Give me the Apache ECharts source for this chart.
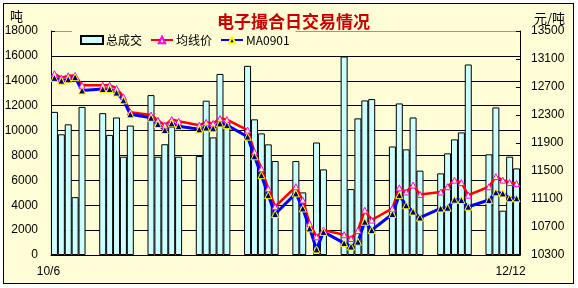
<!DOCTYPE html>
<html><head><meta charset="utf-8">
<script src="https://cdn.jsdelivr.net/npm/echarts@6/dist/echarts.min.js"></script>
<style>
html,body{margin:0;padding:0;background:#fff;}
#frame{position:absolute;left:3px;top:3px;width:569px;height:279px;border:1px solid #000;background:#FEFDD6;}
#c{position:absolute;left:0;top:0;width:578px;height:288px;}
</style></head>
<body>
<div id="frame"></div>
<div id="c"></div>
<script>
var dates = ['10/6','10/7','10/8','10/9','10/10','10/11','10/12','10/13','10/14','10/15','10/16','10/17','10/18','10/19',
'10/20','10/21','10/22','10/23','10/24','10/25','10/26','10/27','10/28','10/29','10/30','10/31','11/1','11/2',
'11/3','11/4','11/5','11/6','11/7','11/8','11/9','11/10','11/11','11/12','11/13','11/14','11/15','11/16',
'11/17','11/18','11/19','11/20','11/21','11/22','11/23','11/24','11/25','11/26','11/27','11/28','11/29','11/30',
'12/1','12/2','12/3','12/4','12/5','12/6','12/7','12/8','12/9','12/10','12/11','12/12'];

var volume = [11500,9700,10500,4650,11900,null,null,11400,9650,11050,7900,10400,null,null,
12850,7900,8900,10300,7900,null,null,7950,12400,9450,14550,10750,null,null,
15200,10900,9770,8890,7550,null,null,7550,5030,null,9040,6880,null,null,
15950,5300,10980,12420,12530,null,null,8720,12180,8490,11050,6780,null,null,
6560,8170,9290,9850,15310,null,null,8090,11860,3560,7900,6960];

var avgPrice = [12890,12830,12860,12865,12725,null,null,12725,12725,12680,12560,12340,null,null,
12300,12225,12155,12235,12210,null,null,12155,12195,12180,12250,12235,null,null,
12085,11775,11535,11250,10990,null,null,11275,11085,10750,10560,10655,null,null,
10590,10535,10650,10940,10800,null,null,10965,11260,11200,11300,11165,null,null,
11200,11275,11370,11335,11155,null,null,11275,11420,11370,11335,11320];

var ma0901 = [12830,12790,12810,12840,12650,null,null,12670,12670,12620,12510,12310,null,null,
12260,12170,12085,12180,12140,null,null,12095,12120,12110,12180,12155,null,null,
11990,11710,11440,11155,10885,null,null,11180,10965,10680,10380,10630,null,null,
10470,10420,10490,10775,10655,null,null,10885,11155,11010,10920,10835,null,null,
10965,10975,11090,11085,10990,null,null,11085,11195,11180,11110,11110];

var seriesNames = ['总成交','均线价','MA0901'];
var titleText = '电子撮合日交易情况';
var leftUnit = '吨';
var rightUnit = '元/吨';

var FONT = '"Liberation Sans", Arial, sans-serif';
var CJK = '"Noto Sans CJK SC", sans-serif';
var chart = echarts.init(document.getElementById('c'), null, {renderer:'canvas'});
var splitColors = ['#000','#000','#000','#000','#000','#000','#000','#000','#000','#999'];
function plain(v){ return String(v); }

chart.setOption({
  backgroundColor: 'transparent',
  animation: false,
  title: [
    {text: titleText, left: 212, top: 8, textStyle:{fontFamily: CJK, fontSize: 17, fontWeight:'bold', color:'#CC0000'}},
    {text: leftUnit, left: 5, top: 5, textStyle:{fontFamily: CJK, fontSize: 13, fontWeight:'normal', color:'#000'}},
    {text: rightUnit, left: 529, top: 7, textStyle:{fontFamily: CJK, fontSize: 13, fontWeight:'normal', color:'#000'}}
  ],
  legend: {
    left: 72, top: 29,
    backgroundColor: '#FEFDD6',
    padding: [5, 6, 5, 8],
    itemGap: 8, itemWidth: 22, itemHeight: 8,
    textStyle: {fontFamily: CJK, fontSize: 12, color:'#000', padding:[0,0,0,-2]},
    data: [{name: seriesNames[0], icon:'rect'}, {name: seriesNames[1]}, {name: seriesNames[2]}]
  },
  grid: {left: 51, right: 58, top: 31, bottom: 33},
  xAxis: {
    type: 'category', data: dates, boundaryGap: true,
    axisLine: {lineStyle:{color:'#000', width:1}},
    axisTick: {show:false},
    axisLabel: {
      interval: function(i){ return i === 0 || i === dates.length - 1; },
      fontFamily: FONT, fontSize: 12, color:'#000', margin: 11, padding:[0,12,0,0]
    },
    splitLine: {show:false}
  },
  yAxis: [
    {type:'value', min:0, max:18000, interval:2000, position:'left',
     axisLine:{show:true, lineStyle:{color:'#000'}},
     axisTick:{show:true, inside:true, length:4, lineStyle:{color:'#000'}},
     axisLabel:{fontFamily:FONT, fontSize:12, color:'#000', margin:13, formatter: plain},
     splitLine:{show:true, lineStyle:{color:splitColors, width:1}}},
    {type:'value', min:10300, max:13500, interval:400, position:'right',
     axisLine:{show:true, lineStyle:{color:'#000'}},
     axisTick:{show:true, inside:true, length:4, lineStyle:{color:'#000'}},
     axisLabel:{fontFamily:FONT, fontSize:12, color:'#000', margin:11, formatter: plain},
     splitLine:{show:false}}
  ],
  series: [
    {name: seriesNames[0], type:'bar', yAxisIndex:0, data: volume,
     barWidth: 7,
     itemStyle:{color:'#CCFFFF', borderColor:'#000', borderWidth:1}},
    {name: seriesNames[1], type:'line', yAxisIndex:1, data: avgPrice, connectNulls:true,
     symbol:'triangle', symbolSize:6, showAllSymbol:true,
     lineStyle:{color:'#FF0000', width:2.5},
     itemStyle:{color:'#FFFFAA', borderColor:'#FF00FF', borderWidth:1}},
    {name: seriesNames[2], type:'line', yAxisIndex:1, data: ma0901, connectNulls:true,
     symbol:'triangle', symbolSize:7, showAllSymbol:true,
     lineStyle:{color:'#0000FF', width:3},
     itemStyle:{color:'#000080', borderColor:'#FFFF00', borderWidth:1}}
  ]
});
</script>
</body></html>
